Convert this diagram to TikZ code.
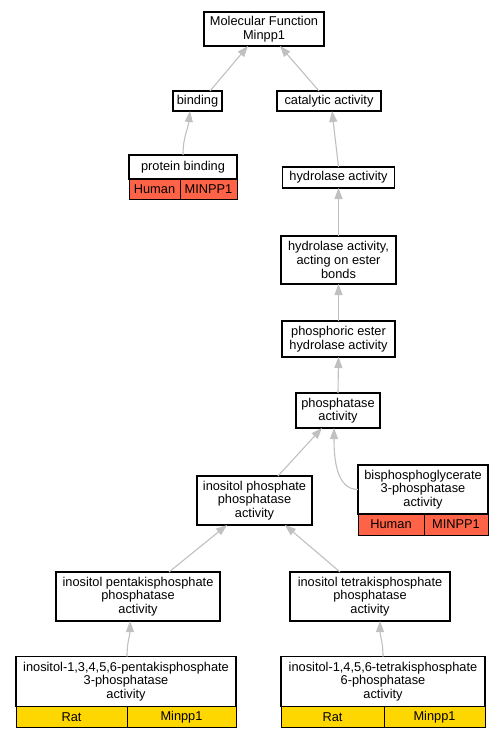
\documentclass[tikz,border=0pt]{standalone}
\usepackage{fontspec}
\setmainfont{Liberation Sans}
\usetikzlibrary{arrows.meta}
\definecolor{edgegrey}{HTML}{C0C0C0}
\definecolor{humanred}{HTML}{FF6347}
\definecolor{ratgold}{HTML}{FFD700}

\begin{document}
\begin{tikzpicture}[x=1pt, y=-1pt,
  term/.style={draw, line width=1.1pt, fill=white, align=center, inner sep=0pt, outer sep=0pt,
    font=\fontsize{12.8}{13.6}\selectfont},
  gene/.style={draw, line width=0.9pt, inner sep=0pt, outer sep=0pt, minimum height=21pt,
    anchor=north west, font=\fontsize{12.8}{13.6}\selectfont},
  isa/.style={edgegrey, line width=1.1pt, -{Triangle[length=11pt, width=8pt]}}]

\useasboundingbox (0,0) rectangle (503,739);

% Draw the terms
\node[term, minimum width=120pt, minimum height=34pt] (mf) at (264,29) {Molecular Function\\Minpp1};
\node[term, minimum width=49pt, minimum height=20pt] (bind) at (197.5,101) {binding};
\node[term, minimum width=104pt, minimum height=20pt] (cat) at (329,101) {catalytic activity};
\node[term, minimum width=108pt, minimum height=24pt] (protbind) at (183,167) {protein binding};
\node[term, minimum width=112pt, minimum height=21pt] (hydro) at (338.5,177.5) {hydrolase activity};
\node[term, minimum width=115pt, minimum height=48pt] (ester) at (338.5,260) {hydrolase activity,\\acting on ester\\bonds};
\node[term, minimum width=113pt, minimum height=36pt] (phosest) at (338.5,339) {phosphoric ester\\hydrolase activity};
\node[term, minimum width=84pt, minimum height=35pt] (phosph) at (338,410.5) {phosphatase\\activity};
\node[term, minimum width=115pt, minimum height=49pt] (inosph) at (254.5,500.5) {inositol phosphate\\phosphatase\\activity};
\node[term, minimum width=130pt, minimum height=49pt] (bpg) at (423,489.5) {bisphosphoglycerate\\3-phosphatase\\activity};
\node[term, minimum width=164pt, minimum height=49pt] (pentak) at (138,596.5) {inositol pentakisphosphate\\phosphatase\\activity};
\node[term, minimum width=160pt, minimum height=49pt] (tetrak) at (370,596.5) {inositol tetrakisphosphate\\phosphatase\\activity};
\node[term, minimum width=220pt, minimum height=50pt] (pentleaf) at (126,681.5) {inositol-1,3,4,5,6-pentakisphosphate\\3-phosphatase\\activity};
\node[term, minimum width=204pt, minimum height=50pt] (tetleaf) at (383,681.5) {inositol-1,4,5,6-tetrakisphosphate\\6-phosphatase\\activity};

% Species and gene rows
\node[gene, fill=humanred, minimum width=51pt, minimum height=20pt] (protbindsp) at (protbind.south west) {Human};
\node[gene, fill=humanred, minimum width=57pt, minimum height=20pt] (protbindgn) at (protbindsp.north east) {MINPP1};
\node[gene, fill=humanred, minimum width=66pt] (bpgsp) at (bpg.south west) {Human};
\node[gene, fill=humanred, minimum width=64pt] (bpggn) at (bpgsp.north east) {MINPP1};
\node[gene, fill=ratgold, minimum width=111pt] (pentleafsp) at (pentleaf.south west) {Rat};
\node[gene, fill=ratgold, minimum width=109pt] (pentleafgn) at (pentleafsp.north east) {Minpp1};
\node[gene, fill=ratgold, minimum width=103pt] (tetleafsp) at (tetleaf.south west) {Rat};
\node[gene, fill=ratgold, minimum width=101pt] (tetleafgn) at (tetleafsp.north east) {Minpp1};

% Draw the is-a edges
\draw[isa] ([xshift=12.5pt]bind.north) -- ([xshift=-16pt]mf.south);
\draw[isa] ([xshift=-10pt]cat.north) -- ([xshift=16pt]mf.south);
\draw[isa] (protbind.north) .. controls +(0,-18) and +(-2,18) .. ([xshift=-7.5pt]bind.south);
\draw[isa] (hydro.north) -- ([xshift=3pt]cat.south);
\draw[isa] (ester.north) -- (hydro.south);
\draw[isa] (phosest.north) -- (ester.south);
\draw[isa] (phosph.north) -- (phosest.south);
\draw[isa] ([xshift=23.5pt]inosph.north) -- ([xshift=-16pt]phosph.south);
\draw[isa] (bpg.west) .. controls +(-22,0) and +(0,30) .. ([xshift=-4pt]phosph.south);
\draw[isa] ([xshift=31pt]pentak.north) -- ([xshift=-27.5pt]inosph.south);
\draw[isa] ([xshift=-30pt]tetrak.north) -- ([xshift=30.5pt]inosph.south);
\draw[isa] ([xshift=1pt]pentleaf.north) .. controls +(0,-15) and +(0,15) .. ([xshift=-8pt]pentak.south);
\draw[isa] (tetleaf.north) .. controls +(0,-15) and +(0,15) .. ([xshift=10pt]tetrak.south);
\end{tikzpicture}
\end{document}
